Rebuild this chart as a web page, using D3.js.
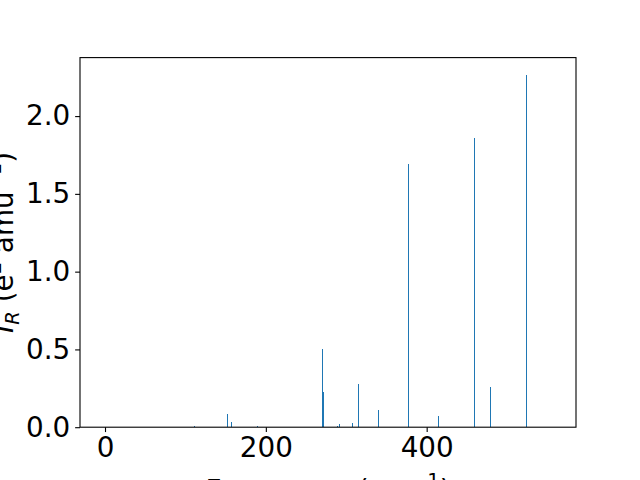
<!DOCTYPE html>
<html>
<head>
<meta charset="utf-8">
<script src="https://cdn.jsdelivr.net/npm/d3@7"></script>
<style>
  html, body { margin: 0; padding: 0; background: #fff; }
  svg { display: block; }
  text { font-family: "DejaVu Sans", sans-serif; }
</style>
</head>
<body>
<svg id="chart" width="640" height="480"></svg>
<script>
// Data
const frequencies = [110.7, 152, 157.5, 190, 270.2, 272, 289.4, 291.8, 308, 315, 339.8, 378, 415.3, 459.2, 479.1, 523.9];
const intensities = [0.006, 0.085, 0.033, 0.005, 0.50, 0.226, 0.008, 0.02, 0.027, 0.278, 0.11, 1.69, 0.072, 1.858, 0.258, 2.263];
const xTicks = [0, 200, 400];
const yTicks = [0.0, 0.5, 1.0, 1.5, 2.0];
const xDomain = [-31.1, 585.7];
const yDomain = [0, 2.376];

const W = 640, H = 480;
const margin = {left: 80, right: 64, top: 57.6, bottom: 52.8};
const svg = d3.select("#chart");
const fs = 27.8;

const x = d3.scaleLinear().domain(xDomain).range([margin.left, W - margin.right]);
const y = d3.scaleLinear().domain(yDomain).range([H - margin.bottom, margin.top]);

// bars
const barW = 0.8;
svg.append("g").selectAll("rect")
  .data(frequencies.map((f, i) => ({f, v: intensities[i]})))
  .join("rect")
  .attr("x", d => x(d.f) - 0.5)
  .attr("width", d => Math.max(1, x(d.f + barW / 2) - x(d.f - barW / 2)))
  .attr("y", d => y(d.v))
  .attr("height", d => Math.max(1, y(0) - y(d.v)))
  .attr("fill", "#1f77b4")
  .attr("shape-rendering", "crispEdges");

// axes
const xAxis = d3.axisBottom(x).tickValues(xTicks).tickFormat(d3.format("d"))
  .tickSize(4.86).tickPadding(4.86).tickSizeOuter(0);
const yAxis = d3.axisLeft(y).tickValues(yTicks).tickFormat(d3.format(".1f"))
  .tickSize(4.86).tickPadding(4.86).tickSizeOuter(0);

const gx = svg.append("g").attr("transform", `translate(0,${H - margin.bottom})`).call(xAxis);
const gy = svg.append("g").attr("transform", `translate(${margin.left},0)`).call(yAxis);
[gx, gy].forEach(g => {
  g.select(".domain").remove();
  g.selectAll("line").attr("stroke", "#000").attr("stroke-width", 1.1);
  g.selectAll("text").attr("font-size", fs).attr("fill", "#000")
    .attr("font-family", "DejaVu Sans, sans-serif");
});

// frame (spines)
svg.append("rect")
  .attr("x", margin.left).attr("y", margin.top)
  .attr("width", W - margin.left - margin.right)
  .attr("height", H - margin.top - margin.bottom)
  .attr("fill", "none").attr("stroke", "#000").attr("stroke-width", 1.1);

// x label
const xl = svg.append("text")
  .attr("x", (margin.left + W - margin.right) / 2)
  .attr("y", 499.5)
  .attr("text-anchor", "middle")
  .attr("font-size", fs);
xl.append("tspan").text("Frequency (cm");
xl.append("tspan").attr("font-size", fs * 0.7).attr("dy", -fs * 0.45).text("−1");
xl.append("tspan").attr("dy", fs * 0.45).text(")");

// y label
const cy = (margin.top + H - margin.bottom) / 2;
const yl = svg.append("text")
  .attr("transform", `translate(13,${cy}) rotate(-90)`)
  .attr("text-anchor", "middle")
  .attr("font-size", fs);
yl.append("tspan").attr("font-style", "italic").text("I");
yl.append("tspan").attr("font-style", "italic").attr("font-size", fs * 0.7).attr("dy", fs * 0.2).text("R");
yl.append("tspan").attr("dy", -fs * 0.2).text(" (e");
yl.append("tspan").attr("font-size", fs * 0.7).attr("dy", -fs * 0.45).text("2");
yl.append("tspan").attr("dy", fs * 0.45).text(" amu");
yl.append("tspan").attr("font-size", fs * 0.7).attr("dy", -fs * 0.45).text("−1");
yl.append("tspan").attr("dy", fs * 0.45).text(")");
</script>
</body>
</html>
